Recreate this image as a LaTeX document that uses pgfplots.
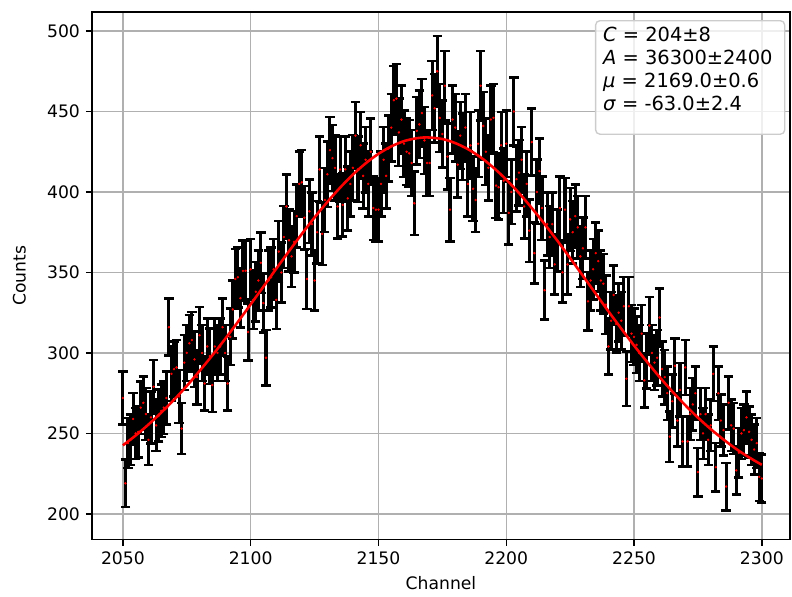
\documentclass[border=0pt]{standalone}
\usepackage{fontspec}
\setmainfont{DejaVu Sans}
\usepackage{pgfplots}
\usepackage{pgfplotstable}
\pgfplotsset{compat=1.18}
\definecolor{gridgray}{HTML}{B0B0B0}
\pgfplotstableread{
x y
2050 272
2051 219
2052 244
2053 246
2054 259
2055 250
2056 251
2057 266
2058 269
2059 262
2060 246
2061 260
2062 279
2063 255
2064 261
2065 264
2066 266
2067 272
2068 316
2069 287
2070 290
2071 291
2072 273
2073 253
2074 294
2075 300
2076 306
2077 308
2078 296
2079 285
2080 311
2081 300
2082 281
2083 304
2084 298
2085 280
2086 304
2087 300
2088 304
2089 316
2090 300
2091 281
2092 310
2093 327
2094 346
2095 347
2096 334
2097 351
2098 351
2099 313
2100 352
2101 333
2102 338
2103 345
2104 356
2105 331
2106 297
2107 345
2108 347
2109 352
2110 333
2111 363
2112 350
2113 372
2114 391
2115 370
2116 360
2117 369
2118 385
2119 405
2120 406
2121 384
2122 346
2123 388
2124 380
2125 345
2126 375
2127 414
2128 374
2129 395
2130 411
2131 426
2132 421
2133 415
2134 391
2135 414
2136 392
2137 414
2138 396
2139 405
2140 415
2141 435
2142 414
2143 429
2144 410
2145 420
2146 405
2147 425
2148 390
2149 389
2150 389
2151 405
2152 420
2153 410
2154 427
2155 440
2156 457
2157 458
2158 437
2159 445
2160 430
2161 425
2162 424
2163 418
2164 393
2165 438
2166 442
2167 449
2168 432
2169 418
2170 418
2171 460
2172 452
2173 475
2174 446
2175 436
2176 466
2177 422
2178 389
2179 445
2180 440
2181 417
2182 435
2183 428
2184 440
2185 405
2186 429
2187 402
2188 395
2189 430
2190 466
2191 441
2192 425
2193 415
2194 445
2195 446
2196 404
2197 403
2198 429
2199 407
2200 430
2201 387
2202 400
2203 450
2204 408
2205 412
2206 420
2207 391
2208 405
2209 376
2210 431
2211 362
2212 400
2213 413
2214 390
2215 339
2216 380
2217 372
2218 380
2219 355
2220 370
2221 390
2222 350
2223 389
2224 355
2225 383
2226 375
2227 385
2228 378
2229 360
2230 365
2231 378
2232 332
2233 345
2234 352
2235 362
2236 357
2237 345
2238 343
2239 330
2240 304
2241 320
2242 336
2243 318
2244 325
2245 320
2246 329
2247 284
2248 329
2249 312
2250 310
2251 305
2252 300
2253 312
2254 283
2255 295
2256 317
2257 300
2258 294
2259 297
2260 322
2261 290
2262 285
2263 275
2264 248
2265 270
2266 292
2267 258
2268 277
2269 245
2270 291
2271 245
2272 262
2273 268
2274 275
2275 226
2276 262
2277 250
2278 262
2279 246
2280 255
2281 287
2282 229
2283 275
2284 258
2285 252
2286 217
2287 269
2288 255
2289 253
2290 227
2291 238
2292 250
2293 252
2294 260
2295 251
2296 246
2297 240
2298 244
2299 223
2300 222
}\datatable
\pgfplotstableread{
x y
2050 242.6
2055 248.7
2060 255.5
2065 262.9
2070 270.9
2075 279.5
2080 288.8
2085 298.5
2090 308.7
2095 319.3
2100 330.2
2105 341.2
2110 352.3
2115 363.2
2120 373.9
2125 384.2
2130 393.8
2135 402.7
2140 410.8
2145 417.8
2150 423.7
2155 428.3
2160 431.6
2165 433.4
2169 433.9
2175 432.9
2180 430.4
2185 426.6
2190 421.5
2195 415.1
2200 407.7
2205 399.3
2210 390.0
2215 380.1
2220 369.7
2225 358.9
2230 347.9
2235 336.8
2240 325.8
2245 315.1
2250 304.6
2255 294.6
2260 285.0
2265 276.0
2270 267.6
2275 259.8
2280 252.7
2285 246.2
2290 240.3
2295 235.1
2300 230.5
}\fittable
\begin{document}
\begin{tikzpicture}
\begin{axis}[
  scale only axis,
  width=406pt, height=307pt,
  xmin=2037.9, xmax=2311.0,
  ymin=183.9, ymax=511.8,
  xtick={2050,2100,2150,2200,2250,2300},
  ytick={200,250,300,350,400,450,500},
  /pgf/number format/assume math mode=true,
  /pgf/number format/1000 sep={},
  xlabel={Channel}, ylabel={Counts},
  grid=major,
  major grid style={gridgray, line width=0.8pt},
  tick align=outside,
  major tick length=3.5pt,
  tick style={black, line width=0.8pt},
  axis line style={black, line width=0.8pt},
  xtick pos=bottom, ytick pos=left,
  xlabel style={yshift=0pt},
  ylabel style={yshift=5.5pt},
]
\coordinate (bl) at (rel axis cs:0,0);
\coordinate (tr) at (rel axis cs:1,1);
\addplot[red, only marks, mark=*, mark size=0.6pt, mark options={line width=0.2pt, red},
  error bars/.cd, y dir=both, y explicit,
  error bar style={draw=black, line width=1.8pt},
  error mark options={rotate=90, mark size=2.7pt, line width=1.5pt, draw=black}]
  table[x=x, y=y, y error expr={sqrt(\thisrow{y})}] {\datatable};
\addplot[red, line width=1.5pt, smooth] table[x=x, y=y] {\fittable};
\node[anchor=north west, draw=black!20, line width=0.8pt, rounded corners=2.5pt, fill=white, fill opacity=0.8,
  minimum width=110pt, minimum height=66pt, inner sep=0pt] (lg) at (rel axis cs:0.7206,0.9848) {};
\node[anchor=north west, inner sep=0pt, align=left, font=\fontsize{11.3pt}{13.3pt}\selectfont]
  at ([xshift=4.6pt,yshift=-4pt]lg.north west)
  {\textit{C} = 204±8\\ \textit{A} = 36300±2400\\ \textit{μ} = 2169.0±0.6\\ \textit{σ} = -63.0±2.4};
\end{axis}
\pgfresetboundingbox
\path ([xshift=-53.5pt,yshift=-33.2pt]bl) rectangle ([xshift=1.2pt,yshift=7pt]tr);
\end{tikzpicture}
\end{document}
